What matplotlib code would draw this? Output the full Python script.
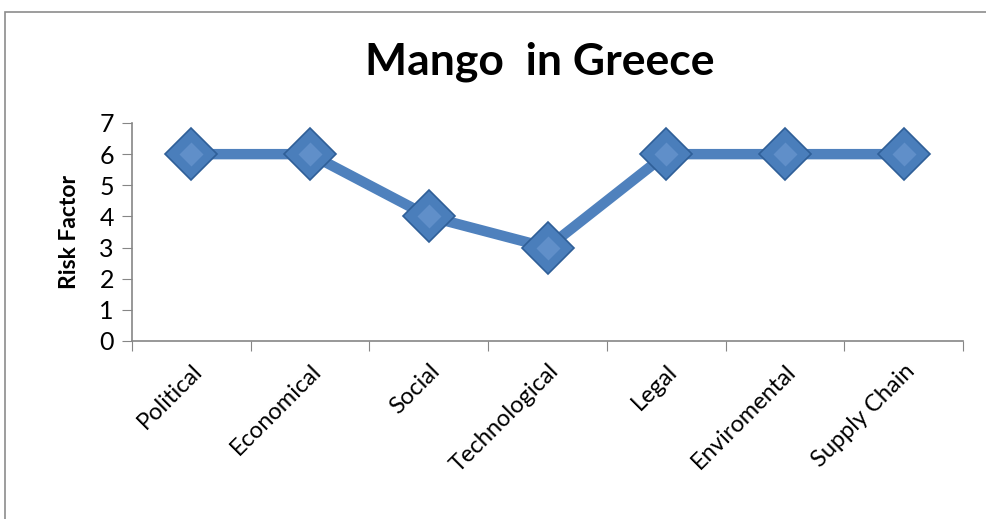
import numpy as np
import matplotlib.pyplot as plt
from matplotlib.patches import Rectangle

categories = ['Political', 'Economical', 'Social', 'Technological',
              'Legal', 'Enviromental', 'Supply Chain']
risk = [6, 6, 4, 3, 6, 6, 6]

plt.rcParams['font.family'] = ['Lato', 'DejaVu Sans']

fig = plt.figure(figsize=(9.87, 5.19), dpi=100)
ax = fig.add_axes([132 / 987, 178 / 519, 831 / 987, 218 / 519])

x = np.arange(len(categories))
ax.plot(x, risk, color='#4F81BD', linewidth=7.5, solid_capstyle='butt',
        marker='D', markersize=26, markerfacecolor='#4A7EBB',
        markeredgecolor='#2F5F98', markeredgewidth=1.2, zorder=3)
# lighter centre on the markers, a rough stand-in for the gradient
ax.plot(x, risk, linestyle='none', marker='D', markersize=12,
        markerfacecolor='#6F9BD3', markeredgecolor='none', alpha=0.6, zorder=4)

ax.set_xlim(-0.5, len(categories) - 0.5)
ax.set_ylim(0, 7)
ax.set_yticks(range(0, 8))
ax.set_xticks(np.arange(-0.5, len(categories)), minor=False)
ax.set_xticklabels([])
ax.set_xticks(x, minor=True)
ax.set_xticklabels(categories, minor=True, rotation=45, ha='right',
                   rotation_mode='anchor', fontsize=17)
ax.tick_params(axis='x', which='minor', length=0, pad=14)
ax.tick_params(axis='x', which='major', length=7, color='#868686', direction='out')
ax.tick_params(axis='y', length=7, color='#868686', labelsize=18, pad=6)

for s in ['top', 'right']:
    ax.spines[s].set_visible(False)
for s in ['left', 'bottom']:
    ax.spines[s].set_color('#868686')
    ax.spines[s].set_linewidth(1.2)

ax.set_ylabel('Risk Factor', fontsize=16.5, fontweight='bold', labelpad=14)
fig.text(540 / 987, 1 - 62 / 519, 'Mango  in Greece', fontsize=32,
         fontweight='bold', ha='center', va='center')

fig.patches.append(Rectangle((5 / 987, -0.05), 1.0, 1 - 12 / 519 + 0.05,
                             transform=fig.transFigure, fill=False,
                             edgecolor='#8C8C8C', linewidth=1.2))

fig.savefig('out.png', dpi=100)
